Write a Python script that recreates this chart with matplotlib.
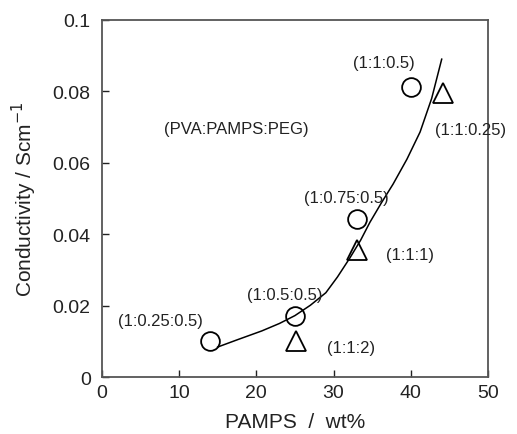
import matplotlib
matplotlib.use("Agg")
import matplotlib.pyplot as plt

plt.rcParams['font.family'] = ['Liberation Sans', 'DejaVu Sans']

# Data
circle_x = [14.0, 25.0, 33.0, 40.0]
circle_y = [0.0102, 0.0172, 0.0443, 0.0812]
circle_labels = ["(1:0.25:0.5)", "(1:0.5:0.5)", "(1:0.75:0.5)", "(1:1:0.5)"]

tri_x = [25.1, 33.0, 44.2]
tri_y = [0.0100, 0.0355, 0.0795]
tri_labels = ["(1:1:2)", "(1:1:1)", "(1:1:0.25)"]

curve_x = [15.0, 17.5, 20.7, 23.0, 25.0, 27.0, 29.0, 30.5, 32.1, 33.5, 34.7, 36.2, 37.7, 39.5, 41.2, 42.7, 44.0]
curve_y = [0.0084, 0.0104, 0.0129, 0.0150, 0.0172, 0.0201, 0.0236, 0.0280, 0.0333, 0.0383, 0.0433, 0.0488, 0.0540, 0.0610, 0.0686, 0.0780, 0.0890]

xticks = [0, 10, 20, 30, 40, 50]
yticks = [0, 0.02, 0.04, 0.06, 0.08, 0.1]
ytick_labels = ["0", "0.02", "0.04", "0.06", "0.08", "0.1"]

fig = plt.figure(figsize=(5.17, 4.35), dpi=100)
ax = fig.add_axes([0.197, 0.131, 0.747, 0.821])

ax.plot(curve_x, curve_y, color='black', lw=1.1)
ax.plot(circle_x, circle_y, 'o', ms=13.5, mfc='none', mec='black', mew=1.3, ls='none')
ax.plot(tri_x, tri_y, '^', ms=14, mfc='none', mec='black', mew=1.3, ls='none')

lab_pos = {
    "(1:0.25:0.5)": (7.6, 0.0157),
    "(1:0.5:0.5)": (23.7, 0.0232),
    "(1:0.75:0.5)": (31.6, 0.0502),
    "(1:1:0.5)": (36.5, 0.0882),
    "(1:1:2)": (32.3, 0.0082),
    "(1:1:1)": (39.9, 0.0343),
    "(1:1:0.25)": (47.7, 0.0692),
}
for lab in circle_labels + tri_labels:
    x, y = lab_pos[lab]
    ax.text(x, y, lab, ha='center', va='center', fontsize=12, color='#222222', clip_on=False)
ax.text(17.4, 0.0695, "(PVA:PAMPS:PEG)", ha='center', va='center', fontsize=12, color='#222222')

ax.set_xlim(0, 50)
ax.set_ylim(0, 0.1)
ax.set_xticks(xticks)
ax.set_xticklabels([str(t) for t in xticks])
ax.set_yticks(yticks)
ax.set_yticklabels(ytick_labels)
ax.tick_params(direction='in', length=5, width=1, labelsize=14, colors='#222222')
ax.tick_params(axis='y', pad=8)
ax.tick_params(axis='x', pad=5)
for s in ax.spines.values():
    s.set_color('#555555')
    s.set_linewidth(1.3)

ax.set_xlabel("PAMPS  /  wt%", fontsize=15, color='#222222', labelpad=8)
ax.set_ylabel("Conductivity / Scm$^{-1}$", fontsize=15, color='#222222', labelpad=10)

fig.savefig("out.png", dpi=100)
